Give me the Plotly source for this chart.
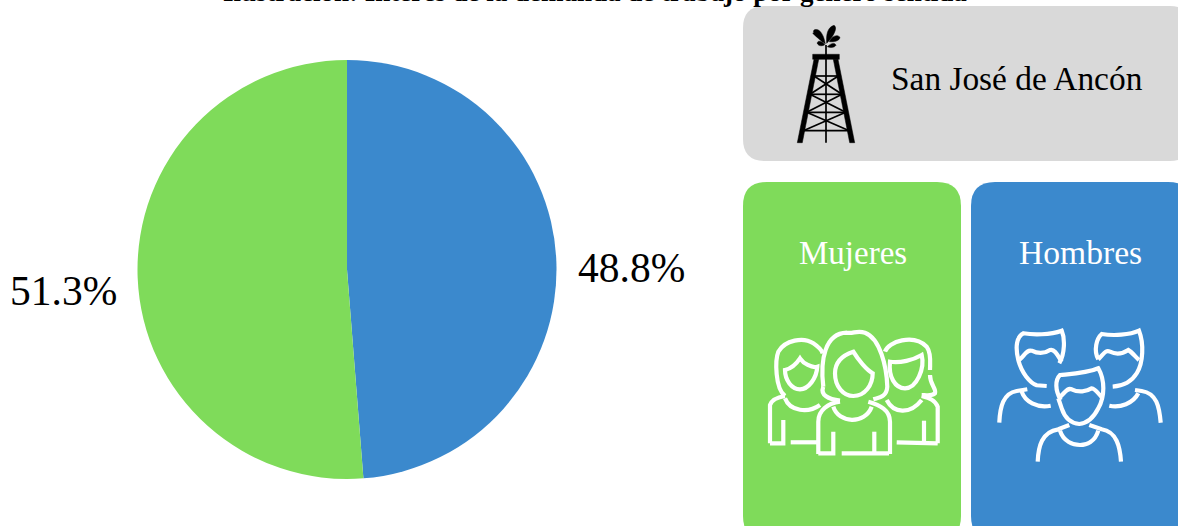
import re
import plotly.graph_objects as go

# ---- data ----
categories = ["Hombres", "Mujeres"]
shares = [48.8, 51.3]
colors = ["#3B89CD", "#7FDB5A"]
title_text = "Ilustración: Interés de la demanda de trabajo por género sentida"
location = "San José de Ancón"

W, H = 1178, 526
SERIF = "Liberation Serif, Times New Roman, serif"
cx, cy, R = 347.0, 269.5, 209.5

fig = go.Figure()
fig.add_trace(go.Pie(
    labels=categories, values=shares, sort=False, direction="clockwise", rotation=0,
    marker=dict(colors=colors, line=dict(width=0)), textinfo="none", hoverinfo="label+percent",
    domain=dict(x=[(cx - R) / W, (cx + R) / W], y=[1 - (cy + R) / H, 1 - (cy - R) / H]),
    showlegend=False,
))


def rrect(x0, y0, x1, y1, r):
    return (f"M {x0+r},{y0} L {x1-r},{y0} Q {x1},{y0} {x1},{y0+r} L {x1},{y1-r} Q {x1},{y1} {x1-r},{y1} "
            f"L {x0+r},{y1} Q {x0},{y1} {x0},{y1-r} L {x0},{y0+r} Q {x0},{y0} {x0+r},{y0} Z")


def conv(path, ox, oy):
    """Icon outlines were traced in 3x crop coordinates; map to page pixels."""
    def f(m):
        return f"{ox + float(m.group(1)) / 3:.1f},{oy + float(m.group(2)) / 3:.1f}"
    return re.sub(r"(-?\d+(?:\.\d+)?),(-?\d+(?:\.\d+)?)", f, path)


shapes = []


def panel(x0, y0, x1, y1, r, color):
    shapes.append(dict(type="path", path=rrect(x0, y0, x1, y1, r), xref="x", yref="y",
                       fillcolor=color, line=dict(width=0), layer="below"))


def stroke(paths, ox, oy, color="white", w=4.2):
    for p in paths:
        shapes.append(dict(type="path", path=conv(p, ox, oy), xref="x", yref="y",
                           line=dict(color=color, width=w), layer="above"))


def solid(paths, ox, oy, color="black"):
    for p in paths:
        shapes.append(dict(type="path", path=conv(p, ox, oy), xref="x", yref="y",
                           fillcolor=color, line=dict(color=color, width=0.5), layer="above"))


panel(743, 6, 1192, 161, 22, "#D9D9D9")
panel(743, 182, 961, 540, 24, colors[1])
panel(971, 182, 1192, 540, 24, colors[0])

# derrick (3x crop coords, origin 740,0)
solid([
    "M 218,163 L 298,163 L 298,178 L 218,178 Z",
    "M 222,178 L 236,178 L 187,428 L 172,428 Z",
    "M 280,178 L 294,178 L 344,428 L 329,428 Z",
], 740, 0)
stroke([
    "M 258,135 L 258,428",
    "M 222,228 L 295,228", "M 210,283 L 306,283", "M 200,337 L 317,337", "M 190,392 L 328,392",
    "M 222,228 L 306,283", "M 295,228 L 210,283",
    "M 210,283 L 317,337", "M 306,283 L 200,337",
    "M 200,337 L 328,392", "M 317,337 L 190,392",
], 740, 0, color="black", w=1.7)
solid([
    "M 256,132 C 252,108 240,82 222,90 C 214,100 236,112 256,132 Z",
    "M 260,130 C 258,105 262,82 282,76 C 294,82 282,108 260,130 Z",
    "M 268,125 C 275,108 292,102 300,112 C 298,124 282,126 268,125 Z",
    "M 250,128 C 240,120 222,104 218,100 C 232,96 246,110 250,128 Z",
    "M 254,134 C 246,122 232,120 232,130 C 236,140 248,138 254,134 Z",
    "M 262,140 C 272,130 284,126 288,136 C 282,144 270,144 262,140 Z",
], 740, 0)

# men icon (3x crop coords, origin 740,310)
stroke([
    "M 958,160 C 975,130 975,85 965,62 C 930,75 880,75 850,70 C 830,80 825,110 835,150 C 845,190 870,218 890,226 L 920,228",
    "M 838,150 C 855,135 860,118 875,122 C 895,132 915,130 930,120 C 945,115 955,140 965,155",
    "M 778,338 C 780,290 790,250 830,243 L 862,238",
    "M 845,245 C 855,275 890,295 932,287",
    "M 1075,148 C 1060,120 1070,85 1085,72 C 1120,78 1170,75 1197,62 C 1212,100 1210,160 1190,190 C 1175,215 1150,228 1118,230",
    "M 1075,148 C 1090,135 1095,118 1110,125 C 1130,135 1150,130 1165,120 C 1175,125 1190,145 1197,150",
    "M 1262,338 C 1258,290 1250,250 1205,243 L 1185,240",
    "M 1195,250 C 1180,280 1140,295 1108,287",
    "M 962,270 C 945,240 945,210 960,195 C 990,192 1040,190 1075,175 C 1095,210 1095,260 1075,295 C 1060,325 1040,340 1018,342 C 995,340 975,325 965,295 L 955,265",
    "M 955,265 C 975,250 980,232 995,238 C 1015,248 1040,245 1055,235 C 1065,235 1075,250 1085,262",
    "M 893,455 C 895,410 905,365 955,358 L 988,345",
    "M 1143,455 C 1140,410 1130,365 1085,358 L 1048,345",
    "M 960,362 C 970,395 1000,405 1020,405 C 1040,405 1065,395 1075,362",
], 740, 310)

# women icon (3x crop coords, origin 740,310)
stroke([
    "M 250,230 C 240,150 255,70 320,68 C 340,72 350,60 375,68 C 420,85 440,170 442,230 C 440,260 420,262 400,268",
    "M 250,230 C 240,255 265,268 300,272",
    "M 340,125 C 310,135 285,155 285,190 C 285,230 310,258 340,258 C 375,258 398,225 398,190 C 380,180 355,150 340,125 Z",
    "M 235,432 L 235,335 C 235,300 265,280 300,275",
    "M 450,432 L 450,335 C 450,300 420,285 385,275",
    "M 305,430 L 447,430", "M 235,430 L 280,430 L 280,365", "M 403,365 L 403,430",
    "M 280,290 C 295,340 375,345 395,290",
    "M 135,258 C 105,235 105,150 115,125 C 135,90 190,80 220,100 C 235,110 245,120 248,130",
    "M 135,180 C 155,175 170,160 180,145 C 190,160 215,175 232,170 C 230,205 205,238 180,238 C 155,238 135,210 135,180 Z",
    "M 135,265 C 150,305 205,310 240,285",
    "M 90,400 L 90,285 C 95,270 110,262 135,258",
    "M 90,400 L 130,400 L 130,330", "M 152,397 L 232,397",
    "M 435,125 C 445,95 520,70 560,110 C 575,130 570,160 570,180",
    "M 570,195 C 570,225 590,235 585,250 C 575,260 555,255 545,255",
    "M 450,155 C 480,160 520,150 545,135 C 555,175 530,235 495,235 C 465,235 445,200 450,155 Z",
    "M 440,270 C 460,310 510,315 545,270",
    "M 593,400 L 593,290 C 585,270 570,265 545,258",
    "M 593,400 L 470,397", "M 552,332 L 552,400",
], 740, 310)


def text(x, y, s, size, color="black", bold=False):
    return dict(x=x / W, y=1 - y / H, xref="paper", yref="paper", text=f"<b>{s}</b>" if bold else s,
                showarrow=False, xanchor="center", yanchor="middle",
                font=dict(family=SERIF, size=size, color=color))


annotations = [
    text(595, -7.6, title_text, 27, bold=True),
    text(1017, 78, location, 33.4),
    text(853, 253, categories[1], 33, "white"),
    text(1080, 253, categories[0], 33.6, "white"),
    text(631.5, 268, f"{shares[0]}%", 41.5),
    text(63.5, 291, f"{shares[1]}%", 41.5),
]

fig.update_layout(
    width=W, height=H, margin=dict(l=0, r=0, t=0, b=0), autosize=False,
    paper_bgcolor="white", plot_bgcolor="rgba(0,0,0,0)", showlegend=False,
    xaxis=dict(range=[0, W], visible=False, fixedrange=True, domain=[0, 1]),
    yaxis=dict(range=[H, 0], visible=False, fixedrange=True, domain=[0, 1]),
    shapes=shapes, annotations=annotations,
)
fig.add_trace(go.Scatter(x=[0, W], y=[0, H], mode="markers", marker=dict(opacity=0), hoverinfo="skip", showlegend=False))
fig.write_html("out.html", config=dict(displayModeBar=False),
               post_script="document.body.style.margin='0';document.body.style.overflow='hidden';")
